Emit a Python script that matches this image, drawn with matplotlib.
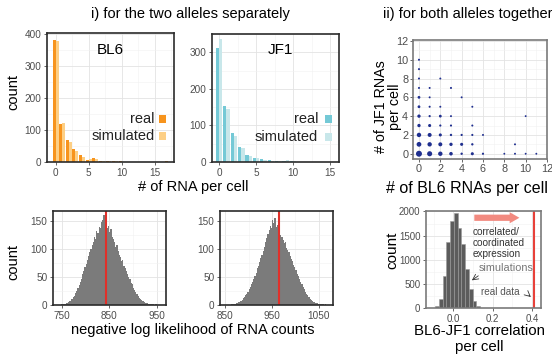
import numpy as np
import matplotlib
matplotlib.use("Agg")
import matplotlib.pyplot as plt
from matplotlib.patches import Rectangle
from matplotlib.ticker import MultipleLocator

plt.rcParams['font.family'] = ['Liberation Sans', 'DejaVu Sans']

# top histograms: # of RNA per cell
rna_x = list(range(0, 18))
bl6_real = [381, 117, 68, 42, 22, 6, 12, 4, 3, 2, 2, 1, 1, 1, 0, 1, 0, 2]
bl6_sim = [378, 123, 63, 34, 16, 8, 9, 4, 2, 2, 1, 1, 1, 1, 1, 0, 1, 1]
jf1_x = list(range(0, 16))
jf1_real = [312, 153, 80, 42, 20, 10, 8, 5, 3, 4, 2, 1, 1, 1, 1, 1]
jf1_sim = [335, 144, 71, 37, 16, 12, 6, 4, 3, 5, 3, 1, 1, 1, 1, 1]

# scatter: BL6 vs JF1 RNAs per cell (number of cells at each point)
sc_bl6 = [0, 0, 0, 0, 0, 0, 0, 0, 0, 0, 0,
          1, 1, 1, 1, 1, 1, 1, 1,
          2, 2, 2, 2, 2, 2, 2,
          3, 3, 3, 3, 3, 3,
          4, 4, 4, 4,
          5, 5, 5, 5, 5,
          6, 6, 8, 9, 9, 10, 10, 11]
sc_jf1 = [0, 1, 2, 3, 4, 5, 6, 7, 8, 9, 10,
          0, 1, 2, 3, 4, 5, 6, 7,
          0, 1, 2, 3, 4, 5, 8,
          0, 1, 2, 3, 4, 7,
          0, 1, 2, 6,
          0, 1, 2, 3, 5,
          0, 2, 0, 0, 1, 0, 4, 0]
sc_n = [100, 60, 50, 25, 25, 15, 15, 4, 4, 4, 4,
        70, 50, 40, 20, 6, 4, 3, 3,
        50, 40, 20, 6, 15, 3, 3,
        30, 25, 8, 5, 3, 4,
        8, 20, 6, 3,
        20, 8, 5, 4, 3,
        6, 3, 2, 3, 3, 2, 2, 2]

# bottom histograms: negative log likelihood (bin width 2.5)
nll_bw = 2.5
nll_bl6_start = 745
nll_bl6 = [0, 1,
           1, 2, 1, 3, 4, 5, 7, 8,
           11, 14, 16, 22, 25, 31, 36, 42,
           47, 55, 60, 68, 74, 80, 88, 94,
           100, 107, 113, 121, 118, 132, 128, 140,
           137, 148, 152, 160, 146, 150, 138, 141,
           131, 135, 122, 118, 112, 104, 108, 96,
           90, 85, 78, 80, 70, 66, 60, 55,
           50, 46, 40, 37, 31, 27, 24, 20,
           16, 13, 11, 9, 7, 6, 4, 4,
           3, 2, 2, 1, 1, 1, 0, 1,
           0, 0]
nll_bl6_real = 843.5
nll_jf1_start = 860
nll_jf1 = [0, 1, 1, 2, 2, 3, 4, 5,
           6, 8, 9, 12, 14, 17, 20, 24,
           28, 32, 38, 41, 46, 52, 58, 66,
           70, 76, 84, 90, 96, 104, 112, 120,
           127, 134, 141, 138, 152, 146, 155, 140,
           143, 132, 137, 125, 121, 116, 110, 112,
           102, 98, 94, 88, 82, 78, 72, 68,
           62, 56, 52, 46, 42, 37, 33, 28,
           24, 20, 17, 14, 11, 9, 7, 6,
           5, 4, 3, 2, 2, 1, 1, 1,
           0, 1]
nll_jf1_real = 964

# correlation per cell, simulations (bin width 0.019)
corr_bw = 0.019
corr_start = -0.112
corr_counts = [5, 40, 190, 670, 1370, 1800, 1960, 1650, 1330, 810, 400, 150, 40, 10]
corr_real = 0.41

orange, orange_l = '#f7941d', '#fdcf85'
teal, teal_l = '#74c9d6', '#c8e7ea'


def style(ax, frame='#2b2b2b'):
    ax.grid(True, which='major', color='#e3e3e3', lw=0.6)
    ax.grid(True, which='minor', color='#f1f1f1', lw=0.4)
    ax.set_axisbelow(True)
    for s in ax.spines.values():
        s.set_color(frame)
        s.set_linewidth(1.2)
    ax.tick_params(labelsize=7.2, labelcolor='#4d4d4d', color='#4d4d4d',
                   length=2.5, width=0.6, pad=1.5)
    ax.tick_params(which='minor', length=0)


def legend_box(ax, col_real, col_sim, tx, sx, sy):
    for y, lab, c in [(sy[0], 'real', col_real), (sy[1], 'simulated', col_sim)]:
        ax.text(tx, y, lab, transform=ax.transAxes, ha='right', va='center',
                fontsize=10.5, color='#222222')
        ax.add_patch(Rectangle((sx, y - 0.031), 0.058, 0.062, transform=ax.transAxes,
                               color=c, lw=0))


W, H = 552, 354
fig = plt.figure(figsize=(W / 100, H / 100), dpi=100)


def axes_px(x0, y0, x1, y1):
    return fig.add_axes([x0 / W, 1 - y1 / H, (x1 - x0) / W, (y1 - y0) / H])


# --- BL6
ax1 = axes_px(47, 33, 174, 162)
style(ax1)
x = np.array(rna_x)
ax1.bar(x - 0.225, bl6_real, width=0.45, color=orange, lw=0)
ax1.bar(x + 0.225, bl6_sim, width=0.45, color=orange_l, lw=0)
ax1.set_xlim(-1.3, 17.9)
ax1.set_ylim(0, 402)
ax1.set_xticks([0, 5, 10, 15])
ax1.set_yticks([0, 100, 200, 300, 400])
ax1.xaxis.set_minor_locator(MultipleLocator(2.5))
ax1.yaxis.set_minor_locator(MultipleLocator(50))
ax1.text(0.496, 0.868, 'BL6', transform=ax1.transAxes, ha='center', va='center', fontsize=11)
legend_box(ax1, orange, orange_l, 0.85, 0.882, (0.333, 0.2))
fig.text(13 / W, 1 - 92 / H, 'count', ha='center', va='center', rotation=90, fontsize=10.5)

# --- JF1
ax2 = axes_px(212, 34, 339, 162)
style(ax2)
x = np.array(jf1_x)
ax2.bar(x - 0.225, jf1_real, width=0.45, color=teal, lw=0)
ax2.bar(x + 0.225, jf1_sim, width=0.45, color=teal_l, lw=0)
ax2.set_xlim(-0.95, 16.2)
ax2.set_ylim(0, 350)
ax2.set_xticks([0, 5, 10, 15])
ax2.set_yticks([0, 100, 200, 300])
ax2.xaxis.set_minor_locator(MultipleLocator(2.5))
ax2.yaxis.set_minor_locator(MultipleLocator(50))
ax2.text(0.535, 0.875, 'JF1', transform=ax2.transAxes, ha='center', va='center', fontsize=11)
legend_box(ax2, teal, teal_l, 0.835, 0.89, (0.333, 0.198))

fig.text(193 / W, 1 - 187 / H, '# of RNA per cell', ha='center', va='center', fontsize=10.5)
fig.text(190 / W, 1 - 14 / H, 'i) for the two alleles separately', ha='center', va='center', fontsize=10.5)

# --- scatter
ax3 = axes_px(413, 40, 547, 159)
style(ax3, frame='#7a7a7a')
sizes = [1.5 + n * 0.17 for n in sc_n]
ax3.scatter(sc_bl6, sc_jf1, s=sizes, color='#1f2f8f', lw=0)
ax3.set_xlim(-0.56, 12.0)
ax3.set_ylim(-0.56, 12.1)
ax3.set_xticks(range(0, 13, 2))
ax3.set_yticks(range(0, 13, 2))
ax3.xaxis.set_minor_locator(MultipleLocator(1))
ax3.yaxis.set_minor_locator(MultipleLocator(1))
ax3.tick_params(labelsize=7.8, pad=1)
fig.text(381 / W, 1 - 107 / H, '# of JF1 RNAs', ha='center', va='center',
         rotation=90, fontsize=10.3)
fig.text(395 / W, 1 - 107 / H, 'per cell', ha='center', va='center',
         rotation=90, fontsize=10.3)
fig.text(467 / W, 1 - 189 / H, '# of BL6 RNAs per cell', ha='center', va='center', fontsize=11.5)
fig.text(468 / W, 1 - 14 / H, 'ii) for both alleles together', ha='center', va='center', fontsize=10.5)

# --- bottom NLL histograms
gray = '#7b7b7b'
ax4 = axes_px(53, 211, 166, 305)
style(ax4)
edges = nll_bl6_start + nll_bw * np.arange(len(nll_bl6))
ax4.bar(edges, nll_bl6, width=nll_bw, align='edge', color=gray, lw=0)
ax4.axvline(nll_bl6_real, color='#e0302a', lw=1.5)
ax4.set_xlim(731, 970)
ax4.set_ylim(0, 168)
ax4.set_xticks([750, 850, 950])
ax4.set_yticks([0, 50, 100, 150])
ax4.xaxis.set_minor_locator(MultipleLocator(50))
ax4.yaxis.set_minor_locator(MultipleLocator(25))
fig.text(13 / W, 1 - 262 / H, 'count', ha='center', va='center', rotation=90, fontsize=10.5)

ax5 = axes_px(220, 211, 333, 305)
style(ax5)
edges = nll_jf1_start + nll_bw * np.arange(len(nll_jf1))
ax5.bar(edges, nll_jf1, width=nll_bw, align='edge', color=gray, lw=0)
ax5.axvline(nll_jf1_real, color='#e0302a', lw=1.5)
ax5.set_xlim(839, 1080)
ax5.set_ylim(0, 168)
ax5.set_xticks([850, 950, 1050])
ax5.set_yticks([0, 50, 100, 150])
ax5.xaxis.set_minor_locator(MultipleLocator(50))
ax5.yaxis.set_minor_locator(MultipleLocator(25))
fig.text(193 / W, 1 - 330 / H, 'negative log likelihood of RNA counts', ha='center', va='center', fontsize=10.5)

# --- correlation histogram
ax6 = axes_px(426, 211, 541, 308)
style(ax6, frame='#7a7a7a')
ax6.tick_params(labelsize=7)
edges = corr_start + corr_bw * np.arange(len(corr_counts))
ax6.bar(edges, corr_counts, width=corr_bw, align='edge', color='#5c5c5c',
        edgecolor='#9a9a9a', lw=0.4)
ax6.axvline(corr_real, color='#e8413a', lw=1.5)
ax6.set_xlim(-0.14, 0.446)
ax6.set_ylim(0, 2010)
ax6.set_xticks([0.0, 0.2, 0.4])
ax6.set_xticklabels(['0.0', '0.2', '0.4'])
ax6.set_yticks([0, 500, 1000, 1500, 2000])
ax6.xaxis.set_minor_locator(MultipleLocator(0.1))
ax6.yaxis.set_minor_locator(MultipleLocator(250))
ax6.annotate('', xy=(0.35, 1870), xytext=(0.092, 1870),
             arrowprops=dict(arrowstyle='simple,head_width=0.8,head_length=0.7,tail_width=0.45',
                             color='#f28a80', lw=0))
for yy, line in [(1583, 'correlated/'), (1354, 'coordinated'), (1125, 'expression')]:
    ax6.text(0.1, yy, line, ha='left', va='center', fontsize=7.2, color='#333333')
ax6.text(0.128, 833, 'simulations', ha='left', va='center', fontsize=7.8, color='#777777')
ax6.annotate('', xy=(0.082, 540), xytext=(0.138, 700),
             arrowprops=dict(arrowstyle='->', color='#333333', lw=0.6))
ax6.text(0.138, 333, 'real data', ha='left', va='center', fontsize=7.2, color='#555555')
ax6.annotate('', xy=(0.405, 190), xytext=(0.374, 300),
             arrowprops=dict(arrowstyle='->', color='#333333', lw=0.6))
fig.text(392 / W, 1 - 250 / H, 'count', ha='center', va='center', rotation=90, fontsize=11)
fig.text(479 / W, 1 - 331 / H, 'BL6-JF1 correlation', ha='center', va='center', fontsize=10.8)
fig.text(479 / W, 1 - 347 / H, 'per cell', ha='center', va='center', fontsize=10.8)

fig.savefig('out.png', dpi=100)
